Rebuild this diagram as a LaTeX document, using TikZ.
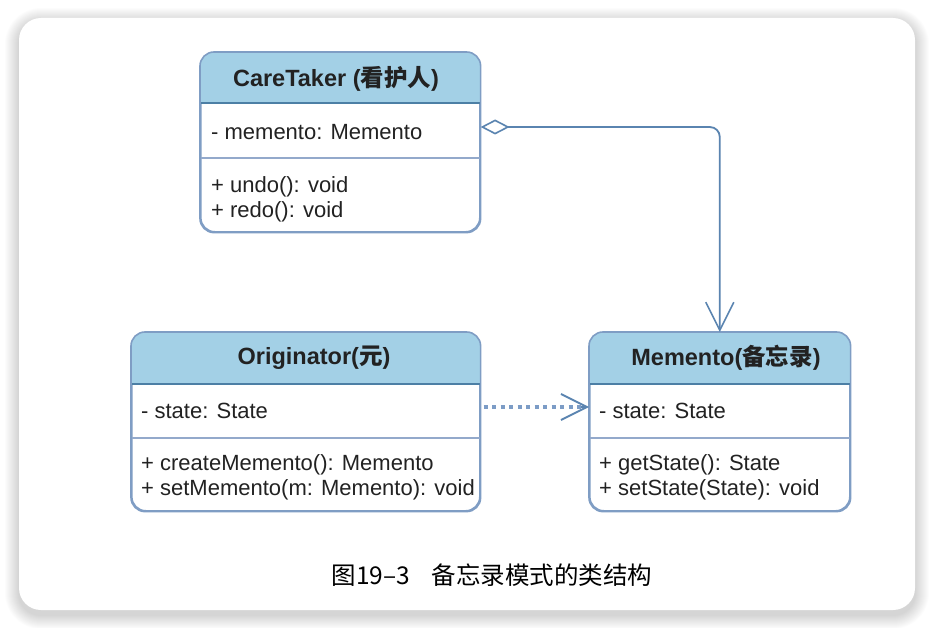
\documentclass[tikz,border=0pt]{standalone}
\usepackage{fontspec}
\setmainfont{Liberation Sans}
\newfontfamily\cjk{Noto Sans CJK SC}
\usetikzlibrary{arrows.meta}
\definecolor{hdrcol}{HTML}{A3D0E6}
\definecolor{bordercol}{HTML}{7F9DC4}
\definecolor{hdrline}{HTML}{4C7FA5}
\definecolor{sepcol}{HTML}{93A9CB}
\definecolor{linkcol}{HTML}{5A84B0}
\definecolor{dotcol}{HTML}{7C9CC6}
\definecolor{txtcol}{HTML}{222222}
\tikzset{
  classbox/.style={draw=bordercol, line width=1.6pt, fill=white, rounded corners=14pt, inner sep=0pt},
  hdrtitle/.style={font=\fontsize{23.5}{26}\selectfont\bfseries, text=txtcol, inner sep=0pt},
  member/.style={font=\fontsize{22}{24}\selectfont, text=txtcol, anchor=west, inner sep=0pt},
  sepline/.style={draw=sepcol, line width=2pt},
  hdrsep/.style={draw=hdrline, line width=1.4pt},
  link/.style={draw=linkcol, line width=1.8pt},
}
\begin{document}
\begin{tikzpicture}[x=1pt,y=-1pt]
\useasboundingbox (0,0) rectangle (933,628);
% card shadow
\foreach \i in {1,...,14}{
  \fill[black, opacity=0.012, rounded corners=22pt+\i pt] (19-\i,18-\i+4) rectangle (915+\i,610+\i+5);
}
\fill[white, rounded corners=22pt] (19,18) rectangle (915,610);

% ---------- CareTaker ----------
\node[classbox, minimum width=279pt, minimum height=179pt, anchor=north west] (ct) at (200,52) {};
\begin{scope}
  \clip[rounded corners=14pt] (ct.north west) rectangle (ct.south east);
  \fill[hdrcol] (ct.north west) rectangle ([yshift=-51pt]ct.north east);
\end{scope}
\draw[hdrsep] ([yshift=-51pt]ct.north west) -- ([yshift=-51pt]ct.north east);
\draw[sepline] ([yshift=-106pt]ct.north west) -- ([yshift=-106pt]ct.north east);
\draw[draw=bordercol, line width=1.6pt, rounded corners=14pt] (ct.north west) rectangle (ct.south east);
\node[hdrtitle] (ct-t) at (336,79) {CareTaker ({\cjk 看护人})};
\node[member] (ct-a) at (211,132) {- memento: Memento};
\node[member] (ct-m1) at (211,187) {+ undo(): void};
\node[member] (ct-m2) at (211,212) {+ redo(): void};

% ---------- Originator ----------
\node[classbox, minimum width=348pt, minimum height=178pt, anchor=north west] (or) at (131,332) {};
\begin{scope}
  \clip[rounded corners=14pt] (or.north west) rectangle (or.south east);
  \fill[hdrcol] (or.north west) rectangle ([yshift=-52pt]or.north east);
\end{scope}
\draw[hdrsep] ([yshift=-52pt]or.north west) -- ([yshift=-52pt]or.north east);
\draw[sepline] ([yshift=-106pt]or.north west) -- ([yshift=-106pt]or.north east);
\draw[draw=bordercol, line width=1.6pt, rounded corners=14pt] (or.north west) rectangle (or.south east);
\node[hdrtitle] (or-t) at (314,358) {Originator({\cjk 元})};
\node[member] (or-a) at (141,411) {- state: State};
\node[member] (or-m1) at (141,465) {+ createMemento(): Memento};
\node[member] (or-m2) at (141,490) {+ setMemento(m: Memento): void};

% ---------- Memento ----------
\node[classbox, minimum width=260pt, minimum height=178pt, anchor=north west] (me) at (589,332) {};
\begin{scope}
  \clip[rounded corners=14pt] (me.north west) rectangle (me.south east);
  \fill[hdrcol] (me.north west) rectangle ([yshift=-52pt]me.north east);
\end{scope}
\draw[hdrsep] ([yshift=-52pt]me.north west) -- ([yshift=-52pt]me.north east);
\draw[sepline] ([yshift=-106pt]me.north west) -- ([yshift=-106pt]me.north east);
\draw[draw=bordercol, line width=1.6pt, rounded corners=14pt] (me.north west) rectangle (me.south east);
\node[hdrtitle] (me-t) at (726,358) {Memento({\cjk 备忘录})};
\node[member] (me-a) at (599,411) {- state: State};
\node[member] (me-m1) at (599,465) {+ getState(): State};
\node[member] (me-m2) at (599,490) {+ setState(State): void};

% ---------- connectors ----------
\coordinate (aggstart) at (ct.east |- 0,127);
\draw[link, rounded corners=10pt, {Diamond[open, length=29pt, width=15pt, line width=1.6pt]}-{Straight Barb[length=28pt, width=28pt, line width=1.6pt]}]
  (aggstart) -- (me.north |- 0,127) -- (me.north);
\coordinate (depstart) at (or.east |- 0,407);
\coordinate (depend) at (me.west |- 0,407);
\draw[draw=dotcol, line width=3.6pt, dash pattern=on 4pt off 4.5pt] ([xshift=3pt]depstart) -- ([xshift=-8pt]depend);
\draw[link, -{Straight Barb[length=26pt, width=26pt, line width=1.8pt]}] ([xshift=-8pt]depend) -- (depend);

% ---------- caption ----------
\node[font=\cjk\fontsize{24.5}{27}\selectfont, text=black, inner sep=0pt] (cap) at (492,575) {图19–3\hspace{0.9em}备忘录模式的类结构};
\end{tikzpicture}
\end{document}
